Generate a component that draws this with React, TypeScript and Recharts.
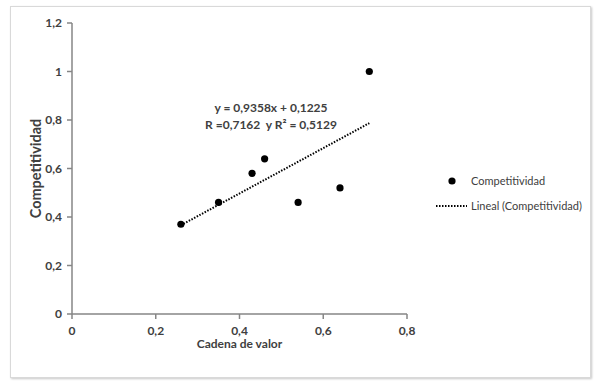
import React from 'react';
import { Label, Legend, Scatter, ScatterChart, XAxis, YAxis } from 'recharts';

// Cadena de valor (x) vs Competitividad (y)
const cadenaDeValor = [0.26, 0.35, 0.43, 0.46, 0.54, 0.64, 0.71];
const competitividad = [0.37, 0.46, 0.58, 0.64, 0.46, 0.52, 1.0];

// linear trend line endpoints (y = 0,9358x + 0,1225)
const trendX = [0.26, 0.71];
const trendY = [0.366, 0.787];

const xTicks = [0, 0.2, 0.4, 0.6, 0.8];
const yTicks = [0, 0.2, 0.4, 0.6, 0.8, 1, 1.2];

const ecuacion = 'y = 0,9358x + 0,1225';
const coeficientes = 'R =0,7162  y R² = 0,5129';

const points = cadenaDeValor.map((x, i) => ({ x, y: competitividad[i] }));
const trend = trendX.map((x, i) => ({ x, y: trendY[i] }));

const TEXT = '#404040';
const AXIS = '#868686';
const FONT = 'Lato, "Open Sans", sans-serif';

const fmt = (v: number) => String(v).replace('.', ',');

function Dot(props: any) {
  return <circle cx={props.cx} cy={props.cy} r={3.6} fill="#000" />;
}

function LegendBox() {
  return (
    <div
      style={{
        position: 'absolute',
        left: 435,
        top: 168,
        width: 165,
        fontFamily: FONT,
        fontSize: 11,
        color: TEXT,
        lineHeight: '25px',
        textAlign: 'left',
      }}
    >
      <div style={{ display: 'flex', alignItems: 'center' }}>
        <svg width={36} height={10}>
          <circle cx={17} cy={5} r={3.6} fill="#000" />
        </svg>
        <span>Competitividad</span>
      </div>
      <div style={{ display: 'flex', alignItems: 'center' }}>
        <svg width={36} height={10}>
          <line x1={1} y1={5} x2={32} y2={5} stroke="#000" strokeWidth={2} strokeDasharray="1.5 1.5" />
        </svg>
        <span>Lineal (Competitividad)</span>
      </div>
    </div>
  );
}

export default function App() {
  return (
    <div style={{ position: 'absolute', left: 0, top: 0, width: 601, height: 388, background: '#fff' }}>
      <div
        style={{
          position: 'absolute',
          left: 10,
          top: 6,
          width: 579,
          height: 370,
          border: '1px solid #d9d9d9',
          boxShadow: '1px 1px 2px #c8c8c8',
        }}
      />
      <div style={{ position: 'absolute', left: 0, top: 0 }}>
        <ScatterChart width={601} height={388} margin={{ top: 23, right: 194, bottom: 44, left: 32 }}>
          <XAxis
            type="number"
            dataKey="x"
            domain={[0, 0.8]}
            ticks={xTicks}
            tickFormatter={fmt}
            height={30}
            stroke={AXIS}
            strokeWidth={1.5}
            tickSize={5}
            tickMargin={7}
            tick={{ fill: TEXT, fontSize: 12, fontWeight: 700, fontFamily: FONT }}
          >
            <Label
              value="Cadena de valor"
              position="insideBottom"
              offset={-4}
              style={{ fill: TEXT, fontSize: 12, fontWeight: 700, fontFamily: FONT }}
            />
          </XAxis>
          <YAxis
            type="number"
            dataKey="y"
            domain={[0, 1.2]}
            ticks={yTicks}
            tickFormatter={fmt}
            width={40}
            stroke={AXIS}
            strokeWidth={1.5}
            tickSize={5}
            tickMargin={5}
            tick={{ fill: TEXT, fontSize: 12, fontWeight: 700, fontFamily: FONT }}
          >
            <Label
              value="Competitividad"
              angle={-90}
              position="insideLeft"
              offset={4}
              style={{ fill: TEXT, fontSize: 14.5, fontWeight: 700, fontFamily: FONT, textAnchor: 'middle' }}
            />
          </YAxis>
          <Scatter
            data={trend}
            line={{ stroke: '#000', strokeWidth: 2, strokeDasharray: '1.5 1.5' }}
            shape={() => <g />}
            isAnimationActive={false}
            legendType="none"
          />
          <Scatter data={points} fill="#000" shape={Dot} isAnimationActive={false} />
          <Legend
            content={() => <LegendBox />}
            layout="horizontal"
            verticalAlign="middle"
            align="center"
            wrapperStyle={{ position: 'absolute', left: 0, top: 0, width: 0, height: 0 }}
          />
        </ScatterChart>
      </div>
      <div
        style={{
          position: 'absolute',
          left: 171,
          top: 99,
          width: 200,
          textAlign: 'center',
          fontFamily: FONT,
          fontSize: 12,
          fontWeight: 700,
          color: TEXT,
          lineHeight: '17px',
        }}
      >
        <div>{ecuacion}</div>
        <div style={{ whiteSpace: 'pre' }}>{coeficientes}</div>
      </div>
    </div>
  );
}
